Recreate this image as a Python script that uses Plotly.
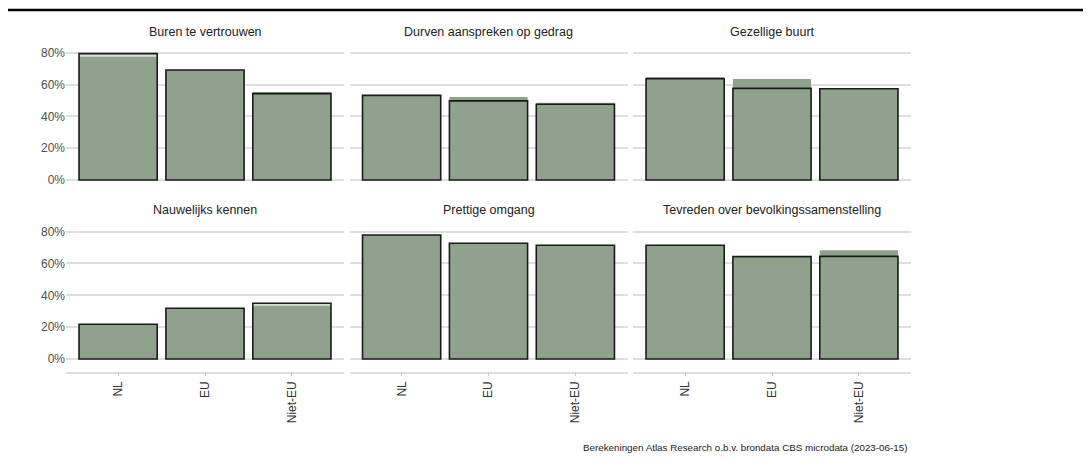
import plotly.graph_objects as go

# ---- data ----
panels = [
    "Buren te vertrouwen",
    "Durven aanspreken op gedrag",
    "Gezellige buurt",
    "Nauwelijks kennen",
    "Prettige omgang",
    "Tevreden over bevolkingssamenstelling",
]
categories = ["NL", "EU", "Niet-EU"]

# filled bars (no outline)
buren_fill = [77.6, 69.3, 55.4]
durven_fill = [53.3, 52.3, 48.7]
gezellig_fill = [64.8, 63.6, 57.5]
nauwelijks_fill = [21.8, 31.9, 33.4]
prettig_fill = [77.9, 72.7, 71.5]
tevreden_fill = [71.5, 64.0, 68.3]

# outlined bars
buren_outline = [79.6, 69.3, 54.4]
durven_outline = [53.3, 49.8, 47.7]
gezellig_outline = [63.8, 57.7, 57.5]
nauwelijks_outline = [21.8, 31.9, 35.0]
prettig_outline = [77.9, 72.7, 71.5]
tevreden_outline = [71.5, 64.3, 64.5]

fill_values = [buren_fill, durven_fill, gezellig_fill,
               nauwelijks_fill, prettig_fill, tevreden_fill]
outline_values = [buren_outline, durven_outline, gezellig_outline,
                  nauwelijks_outline, prettig_outline, tevreden_outline]

y_ticks = [0, 20, 40, 60, 80]
y_tick_labels = ["0%", "20%", "40%", "60%", "80%"]
caption = "Berekeningen Atlas Research o.b.v. brondata CBS microdata (2023-06-15)"

# ---- layout geometry (pixels in page coordinates; page has 8px body margin) ----
OFF = 8
W, H = 1091 - OFF, 459 - OFF
col_px = [(66, 344), (349.5, 627.5), (633, 911)]
row_px = [(46.6, 192.7), (225.3, 371.7)]  # top, bottom
title_y_px = [32, 210]


def px(xv):
    return (xv - OFF) / W


def py(yv):
    return (H - (yv - OFF)) / H


FILL = "#8fa38c"
FILL_LIGHT = "rgba(143,163,140,0.35)"
GRID = "#dedede"
FONT = "Liberation Sans, Arial, sans-serif"

fig = go.Figure()
layout = {}
annotations = []

for i, name in enumerate(panels):
    r, c = divmod(i, 3)
    idx = i + 1
    xa = "x" if idx == 1 else f"x{idx}"
    ya = "y" if idx == 1 else f"y{idx}"
    fig.add_trace(go.Bar(
        x=categories, y=fill_values[i], xaxis=xa, yaxis=ya,
        marker=dict(color=FILL, line=dict(width=0)), width=0.9,
        showlegend=False, hoverinfo="skip",
    ))
    fig.add_trace(go.Bar(
        x=categories, y=outline_values[i], xaxis=xa, yaxis=ya,
        marker=dict(color=FILL_LIGHT, line=dict(color="#1a1a1a", width=1.6)),
        width=0.9, showlegend=False, hoverinfo="skip",
    ))
    x0, x1 = col_px[c]
    top, bot = row_px[r]
    xkey = "xaxis" if idx == 1 else f"xaxis{idx}"
    ykey = "yaxis" if idx == 1 else f"yaxis{idx}"
    layout[xkey] = dict(
        domain=[px(x0), px(x1)], anchor=ya, range=[-0.6, 2.6],
        showgrid=False, zeroline=False,
        showticklabels=(r == 1), tickangle=-90,
        showline=(r == 1), linecolor=GRID, linewidth=1.5,
        ticks="outside" if r == 1 else "", ticklen=3, tickcolor="#c8c8c8", tickwidth=1,
        tickfont=dict(size=12, color="#333333", family=FONT),
        categoryorder="array", categoryarray=categories, fixedrange=True,
    )
    layout[ykey] = dict(
        domain=[py(bot), py(top)], anchor=xa, range=[-8, 84],
        tickmode="array", tickvals=y_ticks, ticktext=y_tick_labels,
        showticklabels=(c == 0),
        showgrid=True, gridcolor=GRID, gridwidth=1.5, zeroline=False,
        tickfont=dict(size=12, color="#4d4d4d", family=FONT), ticks="",
        fixedrange=True,
    )
    annotations.append(dict(
        text=name, x=px((x0 + x1) / 2), y=py(title_y_px[r]),
        xref="paper", yref="paper", xanchor="center", yanchor="middle",
        showarrow=False, font=dict(size=12.5, color="#222222", family=FONT),
    ))

annotations.append(dict(
    text=caption, x=px(909), y=py(447), xref="paper", yref="paper",
    xanchor="right", yanchor="middle", showarrow=False,
    font=dict(size=9.8, color="#1a1a1a", family=FONT),
))

fig.update_layout(
    width=W, height=H, barmode="overlay",
    margin=dict(l=0, r=0, t=0, b=0),
    paper_bgcolor="white", plot_bgcolor="white",
    annotations=annotations,
    shapes=[dict(type="line", xref="paper", yref="paper",
                 x0=0, x1=1, y0=py(10), y1=py(10),
                 line=dict(color="black", width=2.5))],
    **layout,
)

fig.write_html("out.html", config={"displayModeBar": False})
